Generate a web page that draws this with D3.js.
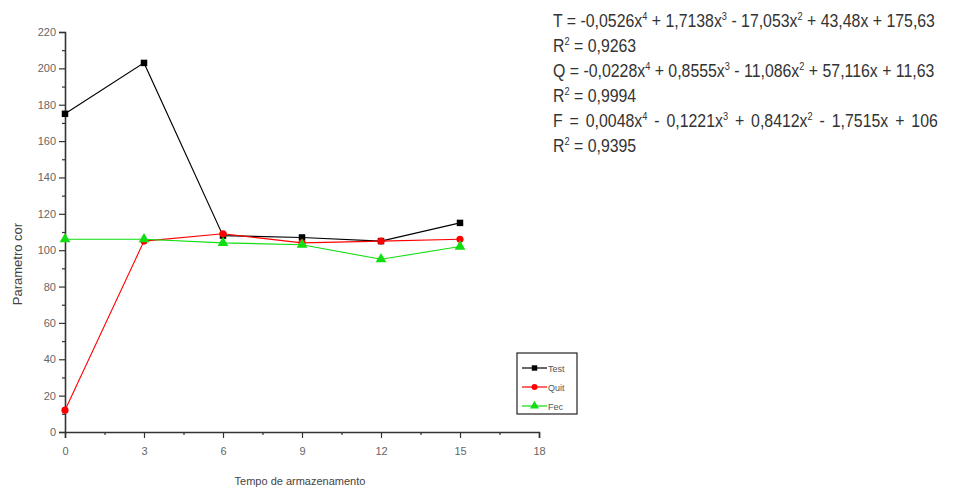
<!DOCTYPE html>
<html>
<head>
<meta charset="utf-8">
<script src="https://cdn.jsdelivr.net/npm/d3@7"></script>
<style>
  html, body { margin: 0; padding: 0; background: #fff; }
  svg { display: block; }
  .eq { font-family: "Liberation Sans", Arial, sans-serif; fill: #333; }
</style>
</head>
<body>
<svg id="chart" width="958" height="492"></svg>
<script>
// Storage time (x) and measured colour parameter for each treatment
const times = [0, 3, 6, 9, 12, 15];
const testValues = [175, 203, 108, 107, 105, 115];
const quitValues = [12, 105, 109, 104, 105, 106];
const fecValues = [106, 106, 104, 103, 95, 102];

const seriesNames = ["Test", "Quit", "Fec"];
const xTicks = [0, 3, 6, 9, 12, 15, 18];
const yTicks = [0, 20, 40, 60, 80, 100, 120, 140, 160, 180, 200, 220];

const equationLines = [
  ["T = -0,0526x", "4", " + 1,7138x", "3", " - 17,053x", "2", " + 43,48x + 175,63"],
  ["R", "2", " = 0,9263"],
  ["Q = -0,0228x", "4", " + 0,8555x", "3", " - 11,086x", "2", " + 57,116x + 11,63"],
  ["R", "2", " = 0,9994"],
  ["F = 0,0048x", "4", " - 0,1221x", "3", " + 0,8412x", "2", " - 1,7515x + 106"],
  ["R", "2", " = 0,9395"]
];
// extra gap between words of each equation line
const equationWordSpacing = [0, 0, 0, 0, 3, 0];

const svg = d3.select("#chart");

const x = d3.scaleLinear().domain([0, 18]).range([65, 539]);
const y = d3.scaleLinear().domain([0, 220]).range([432, 32]);

const axisColor = "#333";
const labelColor = "#666";

// y axis: major ticks every 20, minor every 10
const yAxisG = svg.append("g").attr("transform", `translate(${x(0)},0)`);
yAxisG.call(d3.axisLeft(y).tickValues(yTicks).tickSize(6).tickPadding(3).tickFormat(d3.format("d")));
yAxisG.append("g").call(d3.axisLeft(y).tickValues(d3.range(10, 220, 20)).tickSize(3).tickFormat(""))
  .select(".domain").remove();
yAxisG.selectAll("path.domain").attr("stroke", axisColor).attr("stroke-width", 1.6);
yAxisG.selectAll("line").attr("stroke", axisColor).attr("stroke-width", 1.2);
yAxisG.selectAll("text").attr("fill", labelColor).attr("font-family", "Liberation Sans, Arial, sans-serif").attr("font-size", 11);

// x axis: major ticks every 3, minor every 1.5
const xAxisG = svg.append("g").attr("transform", `translate(0,${y(0)})`);
xAxisG.call(d3.axisBottom(x).tickValues(xTicks).tickSize(6).tickPadding(9).tickFormat(d3.format("d")));
xAxisG.append("g").call(d3.axisBottom(x).tickValues(d3.range(1.5, 18, 3)).tickSize(3).tickFormat(""))
  .select(".domain").remove();
xAxisG.selectAll("path.domain").attr("stroke", axisColor).attr("stroke-width", 1.6);
xAxisG.selectAll("line").attr("stroke", axisColor).attr("stroke-width", 1.2);
xAxisG.selectAll("text").attr("fill", labelColor).attr("font-family", "Liberation Sans, Arial, sans-serif").attr("font-size", 11);

// axis titles
svg.append("text")
  .attr("transform", `translate(22,${(y(0) + y(220)) / 2 + 32}) rotate(-90)`)
  .attr("text-anchor", "middle")
  .attr("font-family", "Liberation Sans, Arial, sans-serif")
  .attr("font-size", 13)
  .attr("fill", "#444")
  .text("Parametro cor");

svg.append("text")
  .attr("x", 300).attr("y", 485)
  .attr("text-anchor", "middle")
  .attr("font-family", "Liberation Sans, Arial, sans-serif")
  .attr("font-size", 11)
  .attr("fill", "#444")
  .text("Tempo de armazenamento");

const series = [
  { name: seriesNames[0], values: testValues, color: "#000000", marker: d3.symbolSquare, size: 42 },
  { name: seriesNames[1], values: quitValues, color: "#ff0000", marker: d3.symbolCircle, size: 40 },
  { name: seriesNames[2], values: fecValues, color: "#11dd11", marker: d3.symbolTriangle, size: 50 }
];

const line = d3.line().x((d, i) => x(times[i])).y(d => y(d));

series.forEach(s => {
  svg.append("path")
    .datum(s.values)
    .attr("fill", "none")
    .attr("stroke", s.color)
    .attr("stroke-width", 1.1)
    .attr("d", line);
  svg.append("g").selectAll("path")
    .data(s.values)
    .join("path")
    .attr("transform", (d, i) => `translate(${x(times[i])},${y(d)})`)
    .attr("d", d3.symbol().type(s.marker).size(s.size))
    .attr("fill", s.color);
});

// legend
const legend = svg.append("g").attr("transform", "translate(517,353)");
legend.append("rect")
  .attr("width", 60).attr("height", 61)
  .attr("fill", "#fff").attr("stroke", "#222").attr("stroke-width", 1.2);
series.forEach((s, i) => {
  const ly = 15 + i * 19;
  legend.append("line")
    .attr("x1", 5).attr("x2", 30).attr("y1", ly).attr("y2", ly)
    .attr("stroke", s.color).attr("stroke-width", 1.2);
  legend.append("path")
    .attr("transform", `translate(17.5,${ly})`)
    .attr("d", d3.symbol().type(s.marker).size(s.size * 0.7))
    .attr("fill", s.color);
  legend.append("text")
    .attr("x", 31).attr("y", ly + 3.5)
    .attr("font-family", "Liberation Sans, Arial, sans-serif")
    .attr("font-size", 9)
    .attr("fill", "#555")
    .text(s.name);
});

// regression equations, exponents as superscripts, horizontally condensed
const eqX = 553;
const eq = svg.append("g").attr("transform", `translate(${eqX},0) scale(0.835,1)`);
equationLines.forEach((parts, i) => {
  const t = eq.append("text")
    .attr("class", "eq")
    .attr("x", 0)
    .attr("y", 27 + i * 25)
    .attr("font-size", 19)
    .attr("word-spacing", equationWordSpacing[i]);
  parts.forEach((p, j) => {
    const sup = j % 2 === 1;
    t.append("tspan")
      .attr("font-size", sup ? 11 : 19)
      .attr("dy", sup ? -7 : (j > 0 ? 7 : 0))
      .text(p);
  });
});
</script>
</body>
</html>
